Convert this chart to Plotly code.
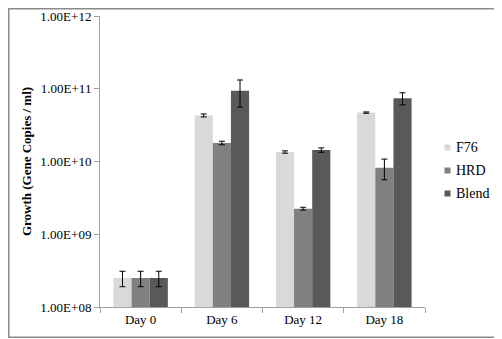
import plotly.graph_objects as go

categories = ["Day 0", "Day 6", "Day 12", "Day 18"]
series_names = ["F76", "HRD", "Blend"]
f76 = [2.5e8, 4.3e10, 1.35e10, 4.7e10]
hrd = [2.5e8, 1.8e10, 2.25e9, 8.2e9]
blend = [2.5e8, 9.4e10, 1.44e10, 7.4e10]
f76_err = [0.6e8, 0.2e10, 0.05e10, 0.1e10]
hrd_err = [0.6e8, 0.1e10, 0.1e9, 2.6e9]
blend_err = [0.6e8, 3.8e10, 0.1e10, 1.4e10]
colors = ["#d9d9d9", "#808080", "#595959"]
ytick_vals = [1e8, 1e9, 1e10, 1e11, 1e12]
ytick_text = ["1.00E+08", "1.00E+09", "1.00E+10", "1.00E+11", "1.00E+12"]

FAM = "Liberation Serif"
fig = go.Figure()
for name, vals, errs, c in zip(series_names, [f76, hrd, blend], [f76_err, hrd_err, blend_err], colors):
    fig.add_trace(go.Bar(
        x=categories, y=vals, name=name, marker=dict(color=c, line=dict(width=0)),
        error_y=dict(type="data", array=errs, visible=True, color="black", thickness=1, width=3),
        showlegend=False,
    ))

font = dict(family=FAM, size=13, color="black")
# page body has an 8px margin: figure sized to fit the 502x339 window
W, H = 494, 331
L, R, T, B = 92, 77, 8, 32
pw, ph = W - L - R, H - T - B
def px(x):
    return (x - L) / pw
def py(y):
    return (H - B - y) / ph

fig.update_layout(
    width=W, height=H,
    margin=dict(l=L, r=R, t=T, b=B),
    paper_bgcolor="white", plot_bgcolor="white",
    barmode="group", bargap=0.33, bargroupgap=0,
    font=font, showlegend=False,
    xaxis=dict(showline=True, linecolor="#a0a0a0", linewidth=1, ticks="outside", ticklen=5,
               tickcolor="#a0a0a0", tickson="boundaries", showgrid=False, tickfont=font,
               automargin=False),
    yaxis=dict(type="log", range=[8, 12], tickvals=ytick_vals, ticktext=ytick_text,
               showline=True, linecolor="#a0a0a0", linewidth=1, ticks="outside", ticklen=5,
               tickcolor="#a0a0a0", showgrid=False, tickfont=font, automargin=False,
               title=dict(text="<b>Growth (Gene Copies / ml)</b>", font=dict(family=FAM, size=13), standoff=5)),
)
# legend (square swatch + label)
for i, (name, c) in enumerate(zip(series_names, colors)):
    yc = 139 + 23 * i
    fig.add_annotation(text=" ", xref="paper", yref="paper", x=px(439), y=py(yc),
                       xanchor="center", yanchor="middle", showarrow=False,
                       width=5, height=5, bgcolor=c, borderpad=0, font=dict(size=4))
    fig.add_annotation(text=name, xref="paper", yref="paper", x=px(446), y=py(yc),
                       xanchor="left", yanchor="middle", showarrow=False,
                       font=dict(family=FAM, size=14, color="black"))
# outer frame
fig.add_annotation(
    text=" ", xref="paper", yref="paper", x=px(246.4), y=py(164.9),
    xanchor="center", yanchor="middle", showarrow=False,
    width=490, height=327, bordercolor="#8a8a8a", borderwidth=1.5, borderpad=0,
)
fig.write_html("out.html")
